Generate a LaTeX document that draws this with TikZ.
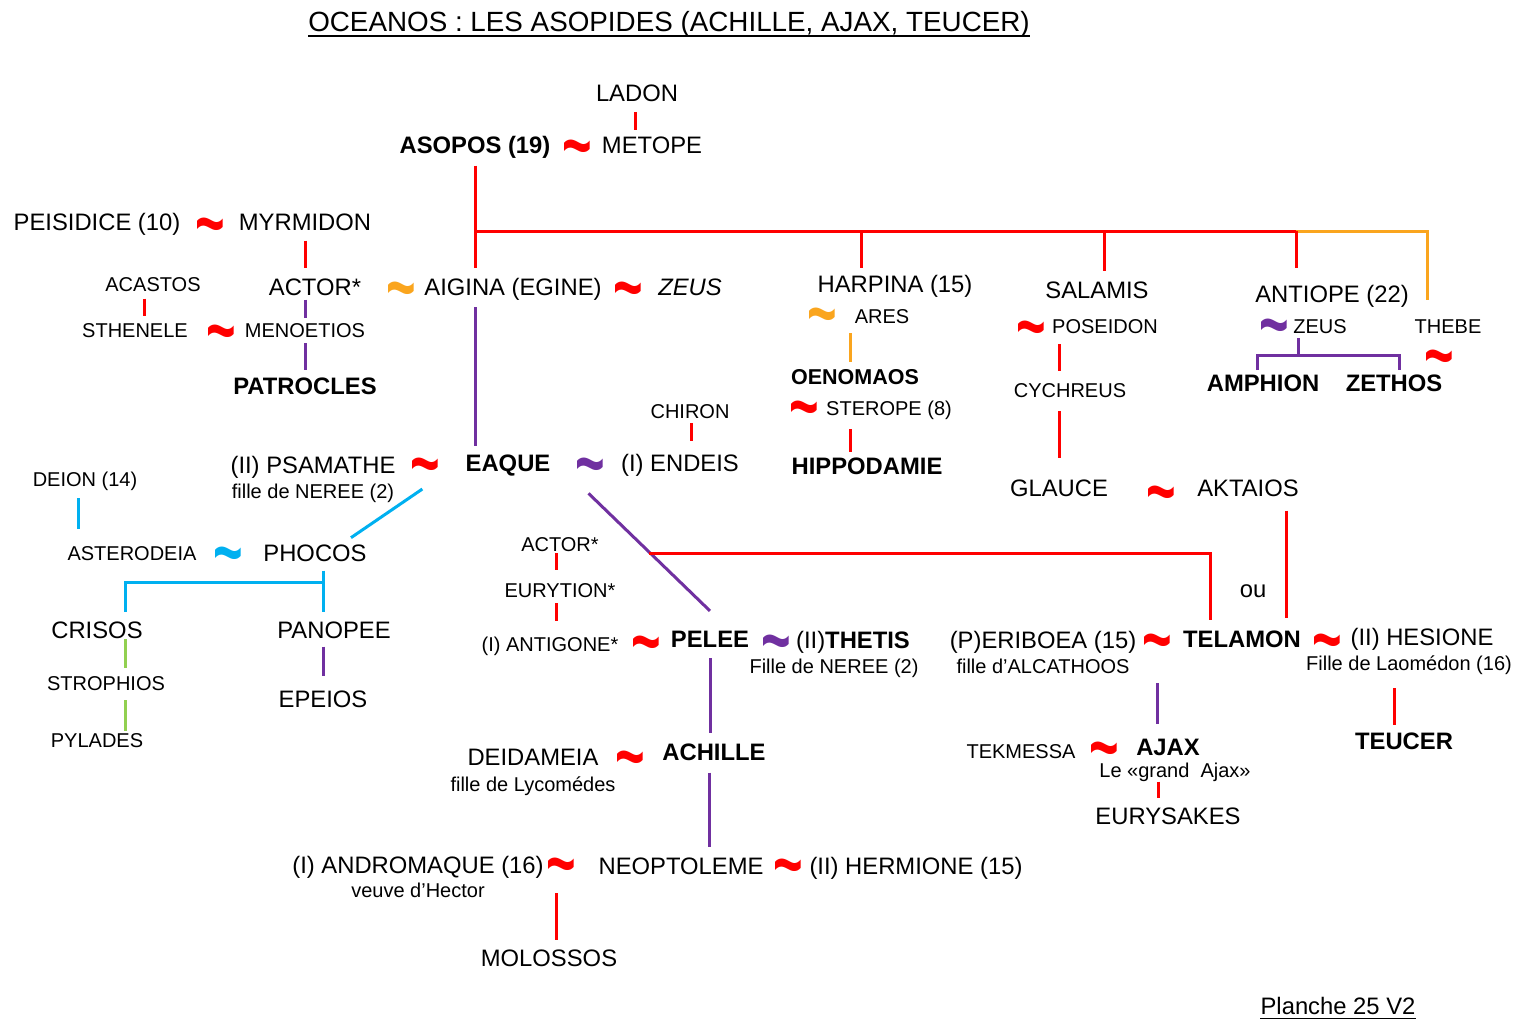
\documentclass[tikz,border=0pt]{standalone}
\usepackage{fontspec}
\usepackage{graphicx}
\setmainfont{Liberation Sans}
\definecolor{cR}{RGB}{255,0,0}
\definecolor{cP}{RGB}{112,48,160}
\definecolor{cO}{RGB}{250,165,30}
\definecolor{cB}{RGB}{0,176,240}
\definecolor{cG}{RGB}{146,208,80}
\tikzset{
  nm/.style={anchor=base,inner sep=0pt,font=\fontsize{23.8}{28}\selectfont},
  ns/.style={anchor=base,inner sep=0pt,font=\fontsize{20}{24}\selectfont},
  nb/.style={anchor=base,inner sep=0pt,font=\fontsize{23.8}{28}\selectfont\bfseries},
  nbs/.style={anchor=base,inner sep=0pt,font=\fontsize{21.5}{26}\selectfont\bfseries},
  tt/.style={anchor=base,inner sep=0pt,font=\fontsize{27.8}{32}\selectfont},
  tl/.style={anchor=base,inner sep=0pt,font=\fontsize{44}{44}\selectfont\bfseries},
  R/.style={draw=cR,line width=3pt},
  P/.style={draw=cP,line width=3pt},
  O/.style={draw=cO,line width=3pt},
  B/.style={draw=cB,line width=3pt},
  G/.style={draw=cG,line width=3pt},
}
\newcommand{\tld}{\smash{\raisebox{-11.6pt}{\scalebox{1.15}[1.8]{\textasciitilde}}}}
\begin{document}
\begin{tikzpicture}[x=1pt,y=-1pt]
\useasboundingbox[fill=white] (0,0) rectangle (1522,1031);
% title
\node[tt] (title) at (669,31) {OCEANOS : LES ASOPIDES (ACHILLE, AJAX, TEUCER)};
\draw[line width=1.8pt] ([yshift=-5pt]title.base west) -- ([yshift=-5pt]title.base east);
\node[nm] (planche) at (1338,1014.5) {Planche 25 V2};
\draw[line width=1.6pt] ([yshift=-4pt]planche.base west) -- ([yshift=-4pt]planche.base east);
% nodes
\node[nm] (ladon) at (637,101.5) {LADON};
\node[nb] (asopos) at (475,153.5) {ASOPOS (19)};
\node[nm] (metope) at (652,153.5) {METOPE};
\node[nm] (peisidice) at (97,230.5) {PEISIDICE (10)};
\node[nm] (myrmidon) at (305,230.5) {MYRMIDON};
\node[ns] (acastos) at (153,291.2) {ACASTOS};
\node[nm] (actor) at (315,295.5) {ACTOR*};
\node[nm] (aigina) at (513,295.5) {AIGINA (EGINE)};
\node[nm] (zeus) at (690,295.5) {\itshape ZEUS};
\node[ns] (sthenele) at (135,337.2) {STHENELE};
\node[ns] (menoetios) at (305,337.2) {MENOETIOS};
\node[nb] (patrocles) at (305,394.5) {PATROCLES};
\node[nm] (harpina) at (895,292.5) {HARPINA (15)};
\node[ns] (ares) at (882,323.2) {ARES};
\node[nbs] (oenomaos) at (855,384.7) {OENOMAOS};
\node[ns] (sterope) at (889,415.2) {STEROPE (8)};
\node[nb] (hippodamie) at (867,474.5) {HIPPODAMIE};
\node[nm] (salamis) at (1097,298.5) {SALAMIS};
\node[ns] (poseidon) at (1105,333.2) {POSEIDON};
\node[ns] (cychreus) at (1070,397.2) {CYCHREUS};
\node[nm] (glauce) at (1059,496.5) {GLAUCE};
\node[nm] (aktaios) at (1248,496.5) {AKTAIOS};
\node[nm] (antiope) at (1332,302.5) {ANTIOPE (22)};
\node[ns] (zeusb) at (1320,333.2) {ZEUS};
\node[nb] (amphion) at (1263,391.5) {AMPHION};
\node[nb] (zethos) at (1394,391.5) {ZETHOS};
\node[ns] (thebe) at (1448,333.2) {THEBE};
\node[ns] (chiron) at (690,418.2) {CHIRON};
\node[nm] (endeis) at (680,471.5) {(I) ENDEIS};
\node[nb] (eaque) at (508,471.5) {EAQUE};
\node[nm] (psamathe) at (313,473.5) {(II) PSAMATHE};
\node[ns] (nereeA) at (313,498.2) {fille de NEREE (2)};
\node[ns] (deion) at (85,486.2) {DEION (14)};
\node[ns] (asterodeia) at (132,560.2) {ASTERODEIA};
\node[nm] (phocos) at (315,561.5) {PHOCOS};
\node[nm] (crisos) at (97,638.5) {CRISOS};
\node[ns] (strophios) at (106,690.2) {STROPHIOS};
\node[ns] (pylades) at (97,747.2) {PYLADES};
\node[nm] (panopee) at (334,638.5) {PANOPEE};
\node[nm] (epeios) at (323,707.5) {EPEIOS};
\node[ns] (actorb) at (560,551.2) {ACTOR*};
\node[ns] (eurytion) at (560,597.2) {EURYTION*};
\node[ns] (antigone) at (550,651.2) {(I) ANTIGONE*};
\node[nb] (pelee) at (710,647.5) {PELEE};
\node[nm] (thetis) at (853,648.5) {(II)\textbf{THETIS}};
\node[ns] (nereeB) at (834,673.2) {Fille de NEREE (2)};
\node[nm] (periboea) at (1043,648.5) {(P)ERIBOEA (15)};
\node[ns] (alcathoos) at (1043,673.2) {fille d’ALCATHOOS};
\node[nb] (telamon) at (1242,647.5) {TELAMON};
\node[nm] (hesione) at (1422,645.5) {(II) HESIONE};
\node[ns] (laomedon) at (1409,670.2) {Fille de Laomédon (16)};
\node[nm] (ou) at (1253,597.5) {ou};
\node[ns] (tekmessa) at (1021,758.2) {TEKMESSA};
\node[nb] (ajax) at (1168,755.5) {AJAX};
\node[ns] (grandajax) at (1175,777.2) {Le «grand\ \ Ajax»};
\node[nm] (eurysakes) at (1168,824.5) {EURYSAKES};
\node[nb] (teucer) at (1404,749.5) {TEUCER};
\node[nm] (deidameia) at (533,765.5) {DEIDAMEIA};
\node[nb] (achille) at (714,760.5) {ACHILLE};
\node[ns] (lycomedes) at (533,791.2) {fille de Lycomédes};
\node[nm] (andromaque) at (418,873.5) {(I) ANDROMAQUE (16)};
\node[nm] (neoptoleme) at (681,874.5) {NEOPTOLEME};
\node[nm] (hermione) at (916,874.5) {(II) HERMIONE (15)};
\node[ns] (hector) at (418,897.2) {veuve d’Hector};
\node[nm] (molossos) at (549,966.5) {MOLOSSOS};
% tildes
\node[tl,text=cR] (t1) at (577,160.5) {\tld};
\node[tl,text=cR] (t2) at (210,238.5) {\tld};
\node[tl,text=cO] (t3) at (401,302.5) {\tld};
\node[tl,text=cR] (t4) at (628,302.5) {\tld};
\node[tl,text=cR] (t5) at (221,345.5) {\tld};
\node[tl,text=cO] (t6) at (822,328.5) {\tld};
\node[tl,text=cR] (t7) at (804,421.5) {\tld};
\node[tl,text=cR] (t8) at (1031,341.5) {\tld};
\node[tl,text=cP] (t9) at (1274,339.5) {\tld};
\node[tl,text=cR] (t10) at (1439,370.5) {\tld};
\node[tl,text=cR] (t11) at (425,478.5) {\tld};
\node[tl,text=cP] (t12) at (590,478.5) {\tld};
\node[tl,text=cR] (t13) at (1161,506.5) {\tld};
\node[tl,text=cB] (t14) at (228,567.5) {\tld};
\node[tl,text=cR] (t15) at (646,656.5) {\tld};
\node[tl,text=cP] (t16) at (776,655.5) {\tld};
\node[tl,text=cR] (t17) at (1157,654.5) {\tld};
\node[tl,text=cR] (t18) at (1327,654.5) {\tld};
\node[tl,text=cR] (t19) at (1104,762.5) {\tld};
\node[tl,text=cR] (t20) at (630,771.5) {\tld};
\node[tl,text=cR] (t21) at (561,878.5) {\tld};
\node[tl,text=cR] (t22) at (788,879.5) {\tld};
% connectors
\draw[R,shorten <=10,shorten >=7] ([xshift=-2pt]ladon.south) -- ([xshift=-2pt]ladon.south |- metope.north);
\draw[R,shorten <=7,shorten >=10] (asopos.south) -- (asopos.south |- aigina.north);
\coordinate (bar) at (475,231);
\coordinate (barE) at (1296,231);
\coordinate (barT) at (1427,231);
\draw[R] (bar) -- (barE);
\draw[O,shorten >=19] (barE) -- (barT) -- (barT |- thebe.north);
\draw[R,shorten >=7] ([xshift=-34pt]harpina.north |- bar) -- ([xshift=-34pt]harpina.north);
\draw[R,shorten >=10.6] ([xshift=7pt]salamis.north |- bar) -- ([xshift=7pt]salamis.north);
\draw[R,shorten >=17] (barE) -- (barE |- antiope.north);
\draw[R,shorten <=9.6,shorten >=10.6] (myrmidon.south) -- (myrmidon.south |- actor.north);
\draw[R,shorten <=7,shorten >=6.7] ([xshift=-9pt]acastos.south) -- ([xshift=-9pt]acastos.south |- sthenele.north);
\draw[P,shorten <=3.6,shorten >=4.7] (menoetios.north |- actor.south) -- (menoetios.north);
\draw[P,shorten <=5.8,shorten >=7.6] (menoetios.south) -- (menoetios.south |- patrocles.north);
\draw[P,shorten <=6.7,shorten >=8.6] ([xshift=-38pt]aigina.south) -- ([xshift=-38pt]aigina.south |- eaque.north);
\draw[O,shorten <=9.8,shorten >=7.3] ([xshift=-32pt]ares.south) -- ([xshift=-32pt]ares.south |- oenomaos.north);
\draw[R,shorten <=9.6,shorten >=5.6] ([xshift=-39pt]sterope.south) -- ([xshift=-39pt]sterope.south |- hippodamie.north);
\draw[R,shorten <=10.8,shorten >=11.7] ([xshift=-46pt]poseidon.south) -- ([xshift=-46pt]poseidon.south |- cychreus.north);
\draw[R,shorten <=13.8,shorten >=21.6] ([xshift=-11pt]cychreus.south) -- ([xshift=-11pt]cychreus.south |- glauce.north);
\draw[R,shorten <=13.6,shorten >=12.6] ([xshift=38pt]aktaios.south) -- ([xshift=38pt]aktaios.south |- telamon.north);
\coordinate (zbar) at (1298,355);
\draw[P,shorten <=4.8] ([xshift=-22pt]zeusb.south) -- (zbar);
\draw[P,shorten <=4.6,shorten >=4.6] ([xshift=-6pt]amphion.north) |- (zbar) -| ([xshift=5pt]zethos.north);
\draw[R,shorten <=4.8,shorten >=13] ([xshift=1pt]chiron.south) -- ([xshift=1pt]chiron.south |- endeis.north);
\draw[B] ([shift={(28pt,4pt)}]nereeA.east) -- ([shift={(36pt,7pt)}]phocos.north);
\draw[B,shorten <=7.6,shorten >=16.7] ([xshift=-7pt]deion.south) -- ([xshift=-7pt]deion.south |- asterodeia.north);
\draw[B,shorten <=8.6,shorten >=9.4] ([xshift=8pt]phocos.south) -- ([xshift=8pt]phocos.south |- panopee.north);
\coordinate (pbar) at (323,582);
\draw[B,shorten >=9.4] (pbar) -| ([xshift=28pt]crisos.north);
\draw[G,shorten >=7.7] ([xshift=28pt]crisos.south) -- ([xshift=28pt]crisos.south |- strophios.north);
\draw[G,shorten <=9.8,shorten >=1.7] ([xshift=19pt]strophios.south) -- ([xshift=19pt]strophios.south |- pylades.north);
\draw[P,shorten <=7.6,shorten >=14.4] ([xshift=-11pt]panopee.south) -- ([xshift=-11pt]panopee.south |- epeios.north);
\draw[P] ([shift={(38pt,-17pt)}]eaque.south east) -- ([yshift=20pt]pelee.north);
\coordinate (tbar) at (649,553);
\draw[R,shorten >=10.6] (tbar) -| ([xshift=-32pt]telamon.north);
\draw[R,shorten <=1.8,shorten >=12.7] ([xshift=-4pt]actorb.south) -- ([xshift=-4pt]actorb.south |- eurytion.north);
\draw[R,shorten <=5.8,shorten >=15.3] ([xshift=-4pt]eurytion.south) -- ([xshift=-4pt]eurytion.south |- antigone.north);
\draw[P,shorten <=10.6,shorten >=10.6] (pelee.south) -- (pelee.south |- achille.north);
\coordinate (ajtop) at ([yshift=-28.5pt]t17.base);
\draw[P,shorten >=14.6] (ajtop) -- (ajtop |- ajax.north);
\draw[R,shorten >=9.4] ([xshift=-17pt]grandajax.south) -- ([xshift=-17pt]grandajax.south |- eurysakes.north);
\draw[R,shorten <=13.6,shorten >=7.6] ([xshift=-15pt]laomedon.south) -- ([xshift=-15pt]laomedon.south |- teucer.north);
\draw[P,shorten <=11.6,shorten >=10.4] ([xshift=-5pt]achille.south) -- ([xshift=-5pt]achille.south |- neoptoleme.north);
\coordinate (moltop) at ([shift={(-5pt,-14.5pt)}]t21.base);
\draw[R,shorten >=9.4] (moltop) -- (moltop |- molossos.north);
\end{tikzpicture}
\end{document}
